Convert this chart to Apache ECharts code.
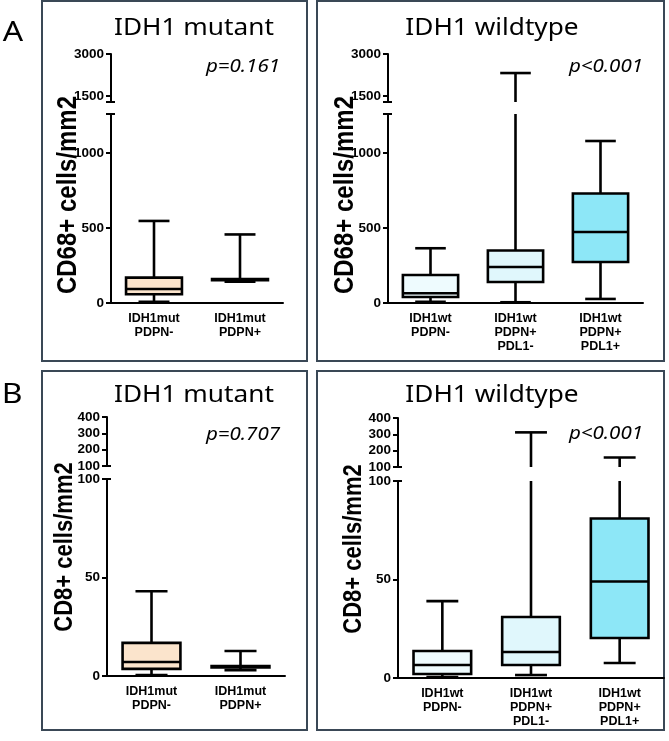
<!DOCTYPE html>
<html><head><meta charset="utf-8">
<script src="https://cdn.jsdelivr.net/npm/echarts@6/dist/echarts.min.js"></script>
<style>html,body{margin:0;padding:0;background:#fff}#c{width:669px;height:741px}</style>
</head><body><div id="c"></div>
<script>
// ---- data ----
const catsMut = ['IDH1mut\nPDPN-', 'IDH1mut\nPDPN+'];
const catsWt = ['IDH1wt\nPDPN-', 'IDH1wt\nPDPN+\nPDL1-', 'IDH1wt\nPDPN+\nPDL1+'];
// five-number summaries: [min, Q1, median, Q3, max]
const cd68Mut = [[8, 58, 93, 169, 547], [142, 152, 157, 160, 457]];
const cd68Wt = [[8, 40, 65, 187, 365], [5, 140, 240, 350, 2320], [27, 273, 473, 730, 1080]];
const cd8Mut = [[0.5, 3.6, 7.1, 16.8, 43], [3, 4.4, 4.8, 5.1, 12.7]];
const cd8Wt = [[0.5, 2, 6.6, 13.7, 39], [1.5, 6.6, 13.2, 31, 312], [7.6, 20.3, 49, 81, 158]];
const cd68LowTicks = [0, 500, 1000];
const cd68UpTicks = [1500, 3000];
const cd8LowTicks = [0, 50, 100];
const cd8UpTicks = [100, 200, 300, 400];
const cd68Range = {lowMax: 1260, upMin: 1286, max: 3000};
const cd8Range = {lowMax: 100, upMin: 100, max: 400};
const pMutA = 'p=0.161', pWtA = 'p<0.001', pMutB = 'p=0.707', pWtB = 'p<0.001';

// ---- styles / layout ----
const cMut = ['#fbe4cc', '#fbe4cc'];
const cWt = ['#eefbfe', '#e0f7fc', '#8de7f7'];
const panels = [
  {cats: catsMut, data: cd68Mut, colors: cMut, r: cd68Range, upT: cd68UpTicks, lowT: cd68LowTicks,
   up: {left: 111, top: 54, width: 172, height: 48}, low: {left: 111, top: 114, width: 172, height: 189}},
  {cats: catsWt, data: cd68Wt, colors: cWt, r: cd68Range, upT: cd68UpTicks, lowT: cd68LowTicks,
   up: {left: 388, top: 54, width: 255, height: 48}, low: {left: 388, top: 114, width: 255, height: 189}},
  {cats: catsMut, data: cd8Mut, colors: cMut, r: cd8Range, upT: cd8UpTicks, lowT: cd8LowTicks,
   up: {left: 107, top: 417, width: 178, height: 49}, low: {left: 107, top: 479, width: 178, height: 197}},
  {cats: catsWt, data: cd8Wt, colors: cWt, r: cd8Range, upT: cd8UpTicks, lowT: cd8LowTicks,
   up: {left: 398, top: 418, width: 266, height: 49}, low: {left: 398, top: 481, width: 266, height: 197}}
];

const LBL_FONT = '"Liberation Sans", Arial, sans-serif';
const blk = {color: '#000', width: 2};

function makeRender(colors) {
  return function (params, api) {
    const cs = params.coordSys;
    const top = cs.y, bot = cs.y + cs.height;
    const i = api.value(0);
    const v = [1, 2, 3, 4, 5].map(k => api.coord([i, api.value(k)])[1]);
    const cx = api.coord([i, api.value(1)])[0];
    const band = api.size([1, 0])[0];
    const bw = band * 0.65, cw = band * 0.36;
    const clamp = y => Math.max(top, Math.min(bot, y));
    const inside = y => y >= top - 0.5 && y <= bot + 0.5;
    const st = {stroke: '#000', lineWidth: 2.6, fill: null};
    const ch = [];
    const seg = (y1, y2) => {
      const a = clamp(y1), b = clamp(y2);
      if (Math.abs(a - b) > 0.01) ch.push({type: 'line', shape: {x1: cx, y1: a, x2: cx, y2: b}, style: st});
    };
    seg(v[3], v[4]);
    seg(v[1], v[0]);
    [v[0], v[4]].forEach(y => {
      if (inside(y)) ch.push({type: 'line', shape: {x1: cx - cw / 2, y1: y, x2: cx + cw / 2, y2: y}, style: st});
    });
    if (inside(v[1]) && inside(v[3])) {
      ch.push({type: 'rect', shape: {x: cx - bw / 2, y: v[3], width: bw, height: v[1] - v[3]},
        style: {fill: colors[params.dataIndex], stroke: '#000', lineWidth: 2.6}});
    }
    if (inside(v[2])) ch.push({type: 'line', shape: {x1: cx - bw / 2, y1: v[2], x2: cx + bw / 2, y2: v[2]}, style: st});
    return {type: 'group', children: ch};
  };
}

const grids = [], xAxes = [], yAxes = [], series = [];
panels.forEach(p => {
  ['up', 'low'].forEach(seg => {
    const gi = grids.length;
    const g = p[seg];
    grids.push({left: g.left, top: g.top, width: g.width, height: g.height, containLabel: false, outerBoundsMode: 'none'});
    xAxes.push({
      type: 'category', gridIndex: gi, data: p.cats, boundaryGap: true, show: seg === 'low',
      axisLine: {onZero: false, lineStyle: blk},
      axisTick: {alignWithLabel: true, length: 5, lineStyle: blk},
      axisLabel: {color: '#000', fontFamily: LBL_FONT, fontWeight: 'bold', fontSize: 12.5, lineHeight: 14, margin: 9, interval: 0},
      splitLine: {show: false}
    });
    const min = seg === 'up' ? p.r.upMin : 0;
    const max = seg === 'up' ? p.r.max : p.r.lowMax;
    const ticks = seg === 'up' ? p.upT : p.lowT;
    const breakVal = seg === 'up' ? p.r.upMin : p.r.lowMax;
    const yi = yAxes.length;
    yAxes.push({
      type: 'value', gridIndex: gi, min: min, max: max, position: 'left',
      axisLine: {show: true, onZero: false, lineStyle: blk},
      axisTick: {show: true, length: 5, customValues: ticks.concat([breakVal]), lineStyle: blk},
      axisLabel: {customValues: ticks, formatter: v => String(v), color: '#000', fontFamily: LBL_FONT,
        fontWeight: 'bold', fontSize: 13.5, margin: 7},
      splitLine: {show: false}
    });
    yAxes.push({
      type: 'value', gridIndex: gi, min: min, max: max, position: 'left',
      axisLine: {show: false},
      axisTick: {show: true, inside: true, length: 4, customValues: [breakVal], lineStyle: blk},
      axisLabel: {show: false}, splitLine: {show: false}
    });
    series.push({
      type: 'custom', xAxisIndex: gi, yAxisIndex: yi, clip: true, silent: true,
      data: p.data.map((d, i) => [i].concat(d)),
      renderItem: makeRender(p.colors)
    });
  });
});

const frameStyle = {fill: null, stroke: '#3a4856', lineWidth: 2};
function txt(x, y, text, font, align, extra) {
  return Object.assign({type: 'text', x: x, y: y, silent: true,
    style: {text: text, font: font, fill: '#000', align: align, textAlign: align, verticalAlign: 'middle', textVerticalAlign: 'middle'}}, extra || {});
}
const TF = '"Noto Sans", "Open Sans", sans-serif';
const graphic = [
  {type: 'rect', shape: {x: 42, y: 1, width: 265, height: 360}, style: frameStyle, silent: true},
  {type: 'rect', shape: {x: 317, y: 1, width: 347, height: 360}, style: frameStyle, silent: true},
  {type: 'rect', shape: {x: 42, y: 371, width: 265, height: 359}, style: frameStyle, silent: true},
  {type: 'rect', shape: {x: 317, y: 371, width: 347, height: 359}, style: frameStyle, silent: true},
  txt(13, 33, 'A', '28px ' + TF, 'center', {scaleX: 1.14}),
  txt(12, 395, 'B', '28px ' + TF, 'center', {scaleX: 1.14}),
  txt(194, 28, 'IDH1 mutant', '23px ' + TF, 'center', {scaleX: 1.14}),
  txt(492, 28, 'IDH1 wildtype', '23px ' + TF, 'center', {scaleX: 1.14}),
  txt(194, 395, 'IDH1 mutant', '23px ' + TF, 'center', {scaleX: 1.14}),
  txt(492, 395, 'IDH1 wildtype', '23px ' + TF, 'center', {scaleX: 1.14}),
  txt(280, 67, pMutA, 'italic 18px ' + TF, 'right', {scaleX: 1.14}),
  txt(643, 67, pWtA, 'italic 18px ' + TF, 'right', {scaleX: 1.14}),
  txt(280, 435, pMutB, 'italic 18px ' + TF, 'right', {scaleX: 1.14}),
  txt(643, 434, pWtB, 'italic 18px ' + TF, 'right', {scaleX: 1.14}),
  txt(68, 195, 'CD68+ cells/mm2', 'bold 24px ' + LBL_FONT, 'center', {rotation: Math.PI / 2, scaleY: 1.14}),
  txt(345, 195, 'CD68+ cells/mm2', 'bold 24px ' + LBL_FONT, 'center', {rotation: Math.PI / 2, scaleY: 1.14}),
  txt(65, 547, 'CD8+ cells/mm2', 'bold 22px ' + LBL_FONT, 'center', {rotation: Math.PI / 2, scaleY: 1.14}),
  txt(354, 549, 'CD8+ cells/mm2', 'bold 22px ' + LBL_FONT, 'center', {rotation: Math.PI / 2, scaleY: 1.14})
];

const chart = echarts.init(document.getElementById('c'));
chart.setOption({
  animation: false,
  backgroundColor: '#fff',
  grid: grids, xAxis: xAxes, yAxis: yAxes, series: series, graphic: graphic
});
</script></body></html>
